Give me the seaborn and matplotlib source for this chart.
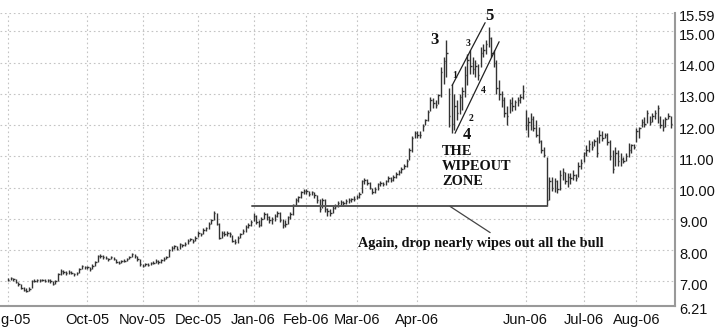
import numpy as np
import pandas as pd
import matplotlib
matplotlib.use("Agg")
import matplotlib.pyplot as plt
import matplotlib.transforms as mtransforms
import seaborn as sns

# Daily price bars as (high, low, close), one list per month
aug05 = [(7.10, 7.00, 7.05), (7.14, 7.03, 7.10), (7.12, 7.02, 7.08), (7.06, 6.95, 6.98),
         (6.98, 6.86, 6.90), (6.92, 6.76, 6.80), (6.82, 6.68, 6.72), (6.78, 6.66, 6.70),
         (6.82, 6.70, 6.75)]
sep05 = [(7.04, 6.80, 7.00), (7.06, 6.97, 7.02), (7.08, 6.99, 7.04), (7.07, 6.98, 7.03),
         (7.09, 7.00, 7.05), (7.07, 6.97, 7.02), (7.08, 6.99, 7.04), (7.06, 6.95, 7.00),
         (7.00, 6.88, 6.93), (7.05, 6.92, 7.00), (7.26, 7.02, 7.22), (7.38, 7.20, 7.32),
         (7.35, 7.25, 7.30), (7.33, 7.21, 7.26), (7.35, 7.24, 7.30), (7.34, 7.22, 7.28),
         (7.28, 7.17, 7.22), (7.30, 7.20, 7.26), (7.44, 7.26, 7.40), (7.52, 7.40, 7.48),
         (7.50, 7.39, 7.45)]
oct05 = [(7.50, 7.40, 7.45), (7.46, 7.34, 7.38), (7.54, 7.38, 7.50), (7.66, 7.50, 7.62),
         (7.84, 7.62, 7.80), (7.87, 7.76, 7.82), (7.84, 7.73, 7.78), (7.80, 7.70, 7.74),
         (7.76, 7.65, 7.70), (7.82, 7.70, 7.78), (7.78, 7.68, 7.72), (7.72, 7.58, 7.62),
         (7.66, 7.55, 7.60), (7.68, 7.58, 7.64), (7.70, 7.61, 7.66), (7.76, 7.64, 7.72),
         (7.82, 7.71, 7.78), (7.90, 7.78, 7.86), (7.88, 7.76, 7.80), (7.80, 7.66, 7.70),
         (7.70, 7.50, 7.54)]
nov05 = [(7.56, 7.45, 7.50), (7.60, 7.48, 7.55), (7.58, 7.48, 7.53), (7.62, 7.52, 7.58),
         (7.64, 7.55, 7.60), (7.70, 7.58, 7.65), (7.67, 7.57, 7.62), (7.72, 7.60, 7.68),
         (7.77, 7.66, 7.73), (7.82, 7.70, 7.78), (8.04, 7.78, 8.00), (8.12, 7.98, 8.08),
         (8.16, 8.04, 8.12), (8.12, 8.00, 8.05), (8.22, 8.05, 8.18), (8.20, 8.10, 8.15),
         (8.25, 8.13, 8.20), (8.35, 8.20, 8.30), (8.40, 8.28, 8.34), (8.34, 8.22, 8.28),
         (8.45, 8.28, 8.40)]
dec05 = [(8.60, 8.42, 8.55), (8.56, 8.45, 8.50), (8.70, 8.50, 8.65), (8.75, 8.60, 8.70),
         (8.90, 8.68, 8.85), (9.00, 8.82, 8.95), (9.25, 8.95, 9.20), (9.18, 8.80, 8.85),
         (8.88, 8.35, 8.40), (8.60, 8.38, 8.55), (8.60, 8.44, 8.50), (8.62, 8.46, 8.55),
         (8.58, 8.42, 8.50), (8.48, 8.26, 8.30), (8.34, 8.20, 8.25), (8.45, 8.22, 8.40),
         (8.55, 8.38, 8.50), (8.66, 8.50, 8.60), (8.80, 8.58, 8.75), (8.86, 8.70, 8.80),
         (8.95, 8.76, 8.90)]
jan06 = [(9.20, 8.92, 9.10), (9.12, 8.85, 8.90), (8.95, 8.74, 8.80), (9.05, 8.78, 9.00),
         (9.22, 8.98, 9.15), (9.18, 8.96, 9.05), (9.08, 8.88, 8.95), (9.06, 8.85, 9.00),
         (9.15, 8.92, 9.10), (9.25, 9.05, 9.20), (9.22, 8.90, 8.95), (8.98, 8.72, 8.80),
         (8.95, 8.74, 8.85), (9.10, 8.82, 9.05), (9.22, 9.00, 9.15), (9.48, 9.12, 9.45),
         (9.66, 9.40, 9.60), (9.74, 9.55, 9.70), (9.88, 9.66, 9.85), (9.94, 9.78, 9.90)]
feb06 = [(9.94, 9.80, 9.90), (9.90, 9.74, 9.80), (9.90, 9.76, 9.85), (9.86, 9.68, 9.75),
         (9.76, 9.52, 9.60), (9.62, 9.22, 9.30), (9.66, 9.35, 9.60), (9.62, 9.22, 9.30),
         (9.35, 9.10, 9.25), (9.30, 9.08, 9.20), (9.42, 9.18, 9.35), (9.46, 9.30, 9.40),
         (9.56, 9.38, 9.50), (9.60, 9.45, 9.55), (9.56, 9.42, 9.50), (9.62, 9.48, 9.58),
         (9.66, 9.52, 9.60), (9.68, 9.55, 9.62), (9.72, 9.56, 9.65)]
mar06 = [(9.76, 9.62, 9.70), (9.86, 9.66, 9.80), (10.25, 9.82, 10.20), (10.32, 10.10, 10.25),
         (10.28, 10.08, 10.15), (10.18, 9.95, 10.00), (10.00, 9.80, 9.85), (10.02, 9.84, 9.95),
         (10.14, 9.92, 10.10), (10.20, 10.05, 10.15), (10.18, 10.04, 10.10), (10.25, 10.08, 10.20),
         (10.36, 10.18, 10.30), (10.34, 10.18, 10.25), (10.40, 10.22, 10.35), (10.50, 10.32, 10.45),
         (10.56, 10.40, 10.50), (10.66, 10.48, 10.60), (10.76, 10.58, 10.70), (10.92, 10.66, 10.85),
         (11.28, 10.88, 11.20), (11.66, 11.15, 11.60), (11.80, 11.58, 11.75)]
apr06 = [(11.80, 11.60, 11.70), (11.82, 11.58, 11.68), (12.05, 11.80, 11.98), (12.20, 12.02, 12.15),
         (12.48, 12.14, 12.42), (12.90, 12.45, 12.80), (12.86, 12.56, 12.70), (12.82, 12.56, 12.66),
         (13.00, 12.68, 12.95), (13.86, 12.90, 13.70), (14.18, 13.33, 14.05), (14.72, 13.54, 14.30),
         (13.20, 11.95, 12.30), (13.33, 11.74, 12.05), (13.00, 11.84, 12.60), (12.80, 12.16, 12.40),
         (13.00, 12.37, 12.90), (13.22, 12.48, 13.10), (13.90, 12.90, 13.60)]
may06 = [(14.28, 13.30, 14.10), (14.39, 13.65, 13.90), (14.18, 13.65, 13.80), (14.07, 13.54, 13.90),
         (13.97, 13.43, 13.60), (14.49, 13.86, 14.30), (14.60, 14.18, 14.40), (14.71, 14.28, 14.60),
         (15.13, 14.50, 14.80), (14.81, 14.18, 14.30), (14.39, 13.86, 14.00), (14.07, 13.01, 13.20),
         (13.43, 12.80, 13.00), (13.10, 12.58, 12.80), (12.90, 12.26, 12.40), (12.60, 12.00, 12.30),
         (12.85, 12.40, 12.70), (12.90, 12.45, 12.60), (12.80, 12.50, 12.75), (12.90, 12.60, 12.80),
         (13.00, 12.70, 12.90), (13.30, 12.85, 13.10)]
jun06 = [(12.50, 11.84, 12.00), (12.26, 11.62, 12.10), (12.38, 11.84, 12.20), (12.30, 11.80, 11.90),
         (12.16, 11.62, 11.70), (11.94, 11.43, 11.50), (11.52, 11.10, 11.20), (11.30, 10.98, 11.05),
         (10.98, 9.40, 9.60), (10.34, 9.60, 10.20), (10.34, 9.90, 10.00), (10.30, 9.85, 10.20),
         (10.25, 9.83, 9.95), (10.57, 9.93, 10.40), (10.63, 10.25, 10.50), (10.50, 10.10, 10.20),
         (10.47, 10.03, 10.35), (10.47, 10.13, 10.30), (10.57, 10.25, 10.40), (10.42, 10.20, 10.30),
         (10.82, 10.34, 10.70), (10.90, 10.60, 10.80)]
jul06 = [(11.14, 10.82, 11.10), (11.36, 11.00, 11.20), (11.52, 11.14, 11.40), (11.50, 11.20, 11.30),
         (11.55, 11.33, 11.50), (11.62, 10.98, 11.10), (11.84, 11.43, 11.70), (11.80, 11.50, 11.60),
         (11.75, 11.60, 11.70), (11.75, 11.36, 11.45), (11.52, 10.89, 11.00), (11.20, 10.47, 10.60),
         (11.30, 10.70, 11.10), (11.20, 10.70, 10.85), (11.10, 10.70, 10.90), (10.98, 10.80, 10.85),
         (11.10, 10.85, 11.00), (11.43, 10.98, 11.20), (11.40, 11.10, 11.35), (11.40, 11.25, 11.30)]
aug06 = [(11.90, 11.46, 11.80), (11.95, 11.60, 11.90), (12.20, 11.94, 12.10), (12.25, 11.95, 12.05),
         (12.48, 12.06, 12.40), (12.30, 12.00, 12.10), (12.40, 12.10, 12.30), (12.50, 12.20, 12.40),
         (12.64, 12.06, 12.55), (12.30, 11.90, 12.00), (12.20, 11.80, 11.95), (12.25, 11.95, 12.20),
         (12.40, 12.20, 12.30), (12.30, 11.90, 12.05)]

months = ["Aug-05", "Sep-05", "Oct-05", "Nov-05", "Dec-05", "Jan-06", "Feb-06",
          "Mar-06", "Apr-06", "May-06", "Jun-06", "Jul-06", "Aug-06"]
month_bars = [aug05, sep05, oct05, nov05, dec05, jan06, feb06,
              mar06, apr06, may06, jun06, jul06, aug06]
labelled_months = ["Aug-05", "Oct-05", "Nov-05", "Dec-05", "Jan-06", "Feb-06",
                   "Mar-06", "Apr-06", "Jun-06", "Jul-06", "Aug-06"]

price_ticks = [6.21, 7.00, 8.00, 9.00, 10.00, 11.00, 12.00, 13.00, 14.00, 15.00, 15.59]
support_level = 9.40

rows = []
for name, bars in zip(months, month_bars):
    for high, low, close in bars:
        rows.append((name, high, low, close))
df = pd.DataFrame(rows, columns=["month", "high", "low", "close"])
df["bar"] = np.arange(len(df))
first_bar = df.groupby("month", sort=False)["bar"].min()

sns.set_style("white")
plt.rcParams["font.family"] = ["Liberation Sans", "DejaVu Sans"]
serif = ["Liberation Serif", "DejaVu Serif"]

fig = plt.figure(figsize=(7.2, 3.29), dpi=100)
ax = fig.add_axes([0.0, 23 / 329, 675 / 720, 293 / 329])

bar_color = "#333333"
ax.vlines(df["bar"], df["low"], df["high"], color=bar_color, lw=1.0, zorder=3)
ax.hlines(df["close"], df["bar"], df["bar"] + 0.55, color=bar_color, lw=1.0, zorder=3)

ax.set_xlim(-3.0, 252.6)
ax.set_ylim(price_ticks[0], price_ticks[-1])

ax.set_xticks([first_bar[m] for m in labelled_months])
ax.set_xticklabels(labelled_months)
ax.yaxis.tick_right()
ax.set_yticks(price_ticks)
ax.set_yticklabels([f"{v:.2f}" for v in price_ticks])
ax.tick_params(axis="both", length=0, labelsize=10.5, colors="#111111")
ax.tick_params(axis="x", pad=5)
ax.tick_params(axis="y", pad=3)
shift = mtransforms.ScaledTranslation(0, -3 / 100, fig.dpi_scale_trans)
for lab in ax.get_yticklabels():
    lab.set_transform(lab.get_transform() + shift)

ax.grid(True, color="#c4c4c4", lw=0.8, ls=(0, (1.5, 2.5)))
ax.set_axisbelow(True)
for side in ["top", "left"]:
    ax.spines[side].set_visible(False)
for side in ["right", "bottom"]:
    ax.spines[side].set_color("#999999")
    ax.spines[side].set_linewidth(1.5)

# support line and the callout pointing at it
ax.plot([92.5, 204.0], [support_level, support_level], color="#555555", lw=1.4, zorder=4)
ax.plot([167.4, 182.6], [support_level, 8.56], color="#444444", lw=0.9, zorder=4)
ax.text(132.6, 8.22, "Again, drop nearly wipes out all the bull", family=serif,
        fontweight="bold", fontsize=10.3, ha="left", va="center", color="#111111")
ax.text(164.4, 10.66, "THE\nWIPEOUT\nZONE", family=serif, fontweight="bold",
        fontsize=10.4, ha="left", va="center", linespacing=1.2, color="#111111")

# wave channel
ax.plot([169.3, 186.0], [11.74, 14.67], color="#222222", lw=0.9, zorder=4)
ax.plot([168.2, 180.7], [13.27, 15.28], color="#222222", lw=0.9, zorder=4)

for txt, x, y, size in [("3", 161.7, 14.71, 12), ("5", 182.2, 15.50, 12), ("4", 173.9, 11.70, 12),
                        ("1", 169.0, 13.59, 7), ("3", 174.1, 14.62, 7), ("4", 180.0, 13.11, 7),
                        ("2", 175.3, 12.21, 7)]:
    ax.text(x, y, txt, family=serif, fontweight="bold", fontsize=size,
            ha="center", va="center", color="#111111", clip_on=False)

fig.savefig("out.png", dpi=100)
